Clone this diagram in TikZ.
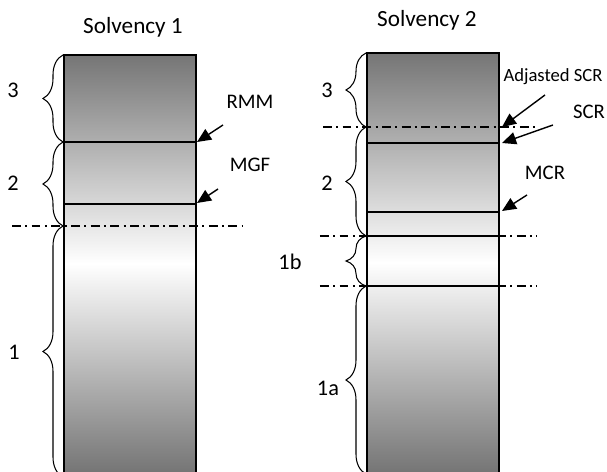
\documentclass[tikz,border=0pt]{standalone}
\usepackage{fontspec}
\setmainfont{Carlito}
\usetikzlibrary{arrows.meta,decorations.pathreplacing}
\tikzset{
  curl/.style={decorate, decoration={brace, amplitude=0.4cm}, line width=0.6pt},
  divider/.style={line width=1pt},
  dashdotline/.style={line width=0.7pt, dash pattern=on 5pt off 2.5pt on 1.2pt off 2.5pt},
  ptr/.style={-{Triangle[length=8pt,width=7pt]}, line width=0.8pt},
  column/.style={top color=black!54, bottom color=black!54, middle color=white},
  num/.style={font=\fontsize{12.7}{14}\selectfont},
  txt/.style={font=\fontsize{11.8}{14}\selectfont},
}
\begin{document}
\begin{tikzpicture}
\useasboundingbox (0,0) rectangle (12.14,9.44);

% Titles
\node[font=\fontsize{13.2}{15}\selectfont] (title1) at (2.66,8.90) {Solvency 1};
\node[font=\fontsize{13.2}{15}\selectfont] (title2) at (8.54,9.04) {Solvency 2};

% Solvency 1 column
\shade[column] (1.28,0) rectangle (3.92,8.34);
\draw[line width=0.8pt] (1.28,0) -- (1.28,8.34) -- (3.92,8.34) -- (3.92,0);
\draw[divider] (1.28,6.60) -- (3.92,6.60);
\draw[divider] (1.28,5.36) -- (3.92,5.36);
\draw[dashdotline] (0.24,4.92) -- (4.86,4.92);

% Solvency 2 column
\shade[column] (7.34,0) rectangle (9.98,8.38);
\draw[line width=0.8pt] (7.34,0) -- (7.34,8.38) -- (9.98,8.38) -- (9.98,0);
\draw[divider] (7.34,6.58) -- (9.98,6.58);
\draw[divider] (7.34,5.20) -- (9.98,5.20);
\draw[line width=0.6pt] (7.34,4.72) -- (9.98,4.72);
\draw[line width=0.6pt] (7.34,3.72) -- (9.98,3.72);
\draw[dashdotline] (6.46,6.90) -- (10.74,6.90);
\draw[dashdotline] (6.40,4.72) -- (10.74,4.72);
\draw[dashdotline] (6.40,3.72) -- (10.74,3.72);

% Braces, Solvency 1
\draw[curl] (1.26,6.60) -- (1.26,8.34);
\draw[curl] (1.26,4.92) -- (1.26,6.60);
\draw[curl] (1.26,-0.10) -- (1.26,4.92);
\node[num] (one3) at (0.26,7.64) {3};
\node[num] (one2) at (0.26,5.78) {2};
\node[num] (one1) at (0.28,2.40) {1};

% Braces, Solvency 2
\draw[curl] (7.32,6.90) -- (7.32,8.38);
\draw[curl] (7.32,4.72) -- (7.32,6.90);
\draw[curl] (7.32,3.72) -- (7.32,4.72);
\draw[curl] (7.32,-0.04) -- (7.32,3.72);
\node[num] (two3) at (6.54,7.64) {3};
\node[num] (two2) at (6.54,5.78) {2};
\node[num] (two1b) at (5.80,4.20) {1b};
\node[num] (two1a) at (6.56,1.68) {1a};

% Labels and pointers
\node[txt] (rmm) at (5.00,7.40) {RMM};
\node[txt] (mgf) at (5.00,6.14) {MGF};
\node[font=\fontsize{10.6}{12}\selectfont] (adj) at (11.06,7.90) {Adjasted SCR};
\node[txt] (scr) at (11.78,7.20) {SCR};
\node[txt] (mcr) at (10.90,5.98) {MCR};

\coordinate (rmm from) at (4.46,6.94);
\coordinate (rmm to) at (3.94,6.60);
\coordinate (mgf from) at (4.36,5.66);
\coordinate (mgf to) at (3.94,5.38);
\coordinate (adj from) at (10.90,7.54);
\coordinate (adj to) at (10.04,6.90);
\coordinate (scr from) at (11.06,6.94);
\coordinate (scr to) at (10.04,6.58);
\coordinate (mcr from) at (10.54,5.54);
\coordinate (mcr to) at (10.04,5.22);
\draw[ptr] (rmm from) -- (rmm to);
\draw[ptr] (mgf from) -- (mgf to);
\draw[ptr] (adj from) -- (adj to);
\draw[ptr] (scr from) -- (scr to);
\draw[ptr] (mcr from) -- (mcr to);

\end{tikzpicture}
\end{document}
